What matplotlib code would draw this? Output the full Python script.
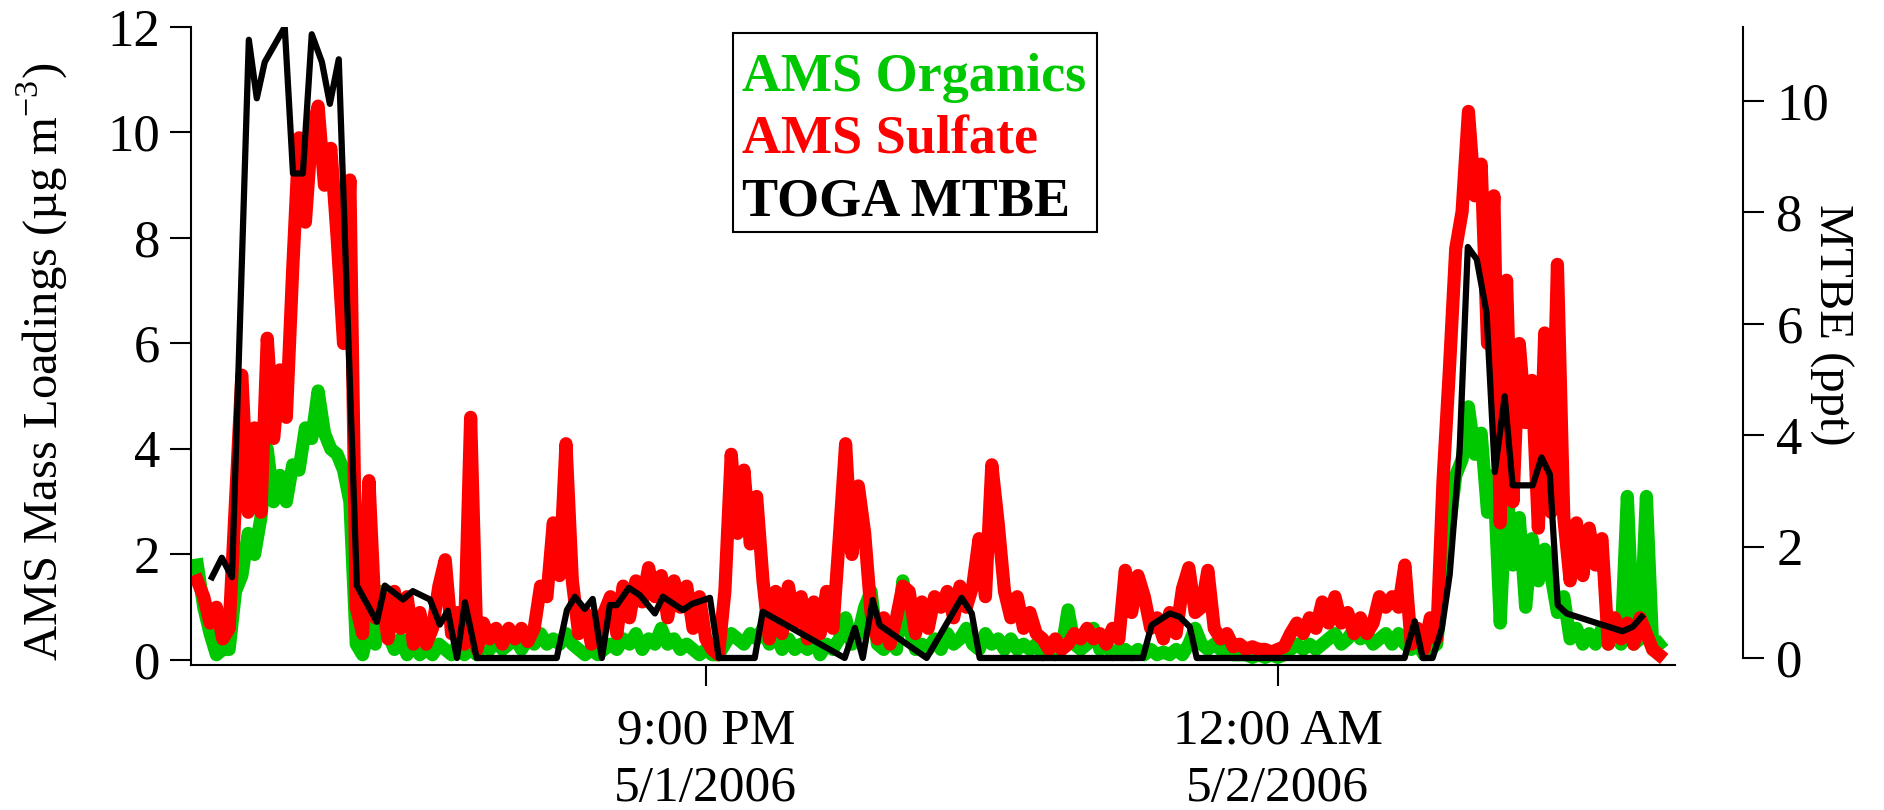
import matplotlib
matplotlib.use("Agg")
import matplotlib.pyplot as plt
from matplotlib.patches import Rectangle
import pandas as pd

plt.rcParams['font.family'] = ['Liberation Serif', 'DejaVu Serif']
plt.rcParams['mathtext.fontset'] = 'custom'
plt.rcParams['mathtext.rm'] = 'Liberation Serif'

# AMS data: one value every 2 minutes from 18:20 on 5/1/2006 (ug m-3)
ams_start = "2006-05-01 18:20"
ams_step = "2min"
organics = [
    1.8, 1.0, 0.5, 0.1, 0.2, 0.2, 1.3, 1.6, 2.4, 2.0,
    2.7, 4.0, 3.0, 3.5, 3.0, 3.7, 3.6, 4.4, 4.2, 5.1,
    4.3, 4.0, 3.9, 3.6, 3.0, 0.3, 0.1, 0.6, 0.3, 1.3,
    0.5, 0.2, 0.4, 0.1, 0.3, 0.1, 0.2, 0.1, 0.3, 0.2,
    0.1, 0.3, 0.1, 0.2, 0.1, 0.3, 0.2, 0.4, 0.2, 0.3,
    0.4, 0.2, 0.4, 0.3, 0.5, 0.3, 0.4, 0.3, 0.5, 0.3,
    0.2, 0.1, 0.2, 0.1, 0.2, 0.3, 0.2, 0.4, 0.3, 0.5,
    0.2, 0.4, 0.3, 0.6, 0.3, 0.4, 0.2, 0.3, 0.2, 0.1,
    0.2, 0.1, 0.1, 0.3, 0.5, 0.4, 0.3, 0.5, 0.4, 0.6,
    0.3, 0.5, 0.2, 0.4, 0.2, 0.3, 0.2, 0.4, 0.1, 0.3,
    0.2, 0.4, 0.8, 0.3, 0.5, 1.0, 1.3, 0.3, 0.2, 0.4,
    0.2, 1.5, 0.6, 0.2, 0.3, 0.2, 0.4, 0.2, 0.5, 0.3,
    0.4, 0.6, 0.3, 0.2, 0.5, 0.3, 0.4, 0.2, 0.4, 0.2,
    0.3, 0.2, 0.3, 0.1, 0.2, 0.1, 0.2, 0.95, 0.3, 0.2,
    0.3, 0.6, 0.2, 0.3, 0.1, 0.2, 0.2, 0.1, 0.2, 0.1,
    0.2, 0.1, 0.15, 0.1, 0.2, 0.1, 0.3, 0.6, 0.3, 0.2,
    0.3, 0.2, 0.2, 0.1, 0.1, 0.1, 0.05, 0.1, 0.05, 0.1,
    0.05, 0.1, 0.2, 0.3, 0.2, 0.3, 0.2, 0.3, 0.4, 0.5,
    0.3, 0.4, 0.6, 0.4, 0.5, 0.3, 0.4, 0.5, 0.3, 0.5,
    0.3, 0.2, 0.3, 0.1, 0.2, 0.3, 1.5, 2.5, 3.5, 3.8,
    4.8, 3.9, 4.3, 2.8, 3.5, 0.7, 3.3, 1.8, 2.7, 1.0,
    2.3, 1.5, 2.1, 1.6, 0.9, 1.2, 0.4, 0.6, 0.3, 0.5,
    0.3, 0.6, 0.3, 0.6, 0.3, 3.1, 0.3, 0.4, 3.1, 0.2, 0.3,
]
sulfate = [
    1.5, 1.2, 0.7, 1.0, 0.4, 0.6, 3.0, 5.4, 2.8, 4.4,
    2.8, 6.1, 4.2, 5.5, 4.6, 7.4, 9.9, 8.3, 10.0, 10.5,
    9.0, 9.7, 8.0, 6.0, 9.1, 1.0, 0.5, 3.4, 0.8, 1.2,
    0.4, 1.3, 0.6, 1.2, 0.3, 0.9, 0.3, 0.6, 1.4, 1.9,
    0.5, 0.9, 0.3, 4.6, 0.2, 0.7, 0.4, 0.6, 0.3, 0.6,
    0.4, 0.6, 0.35, 0.6, 1.4, 1.2, 2.6, 1.6, 4.1, 1.5,
    0.5, 0.9, 0.3, 0.6, 0.9, 1.2, 0.5, 1.4, 0.8, 1.5,
    1.1, 1.75, 1.2, 1.6, 0.8, 1.5, 1.0, 1.4, 0.6, 1.2,
    0.4, 0.2, 0.1, 1.3, 3.9, 2.4, 3.6, 2.2, 3.1, 1.5,
    0.4, 1.3, 0.5, 1.4, 0.7, 1.2, 0.4, 1.1, 0.5, 1.3,
    0.6, 2.3, 4.1, 2.0, 3.3, 2.4, 0.9, 0.4, 0.8, 0.3,
    0.8, 1.4, 1.3, 0.5, 1.1, 0.6, 1.2, 1.0, 1.3, 0.8,
    1.4, 1.0, 1.4, 2.3, 1.2, 3.7, 2.6, 1.3, 0.8, 1.2,
    0.6, 0.9, 0.5, 0.4, 0.2, 0.4, 0.2, 0.3, 0.5, 0.4,
    0.6, 0.4, 0.5, 0.3, 0.6, 0.4, 1.7, 0.9, 1.6, 1.2,
    0.6, 0.8, 0.4, 0.9, 0.5, 1.35, 1.75, 0.9, 1.0, 1.7,
    0.6, 0.4, 0.5, 0.25, 0.3, 0.2, 0.25, 0.2, 0.2, 0.15,
    0.2, 0.25, 0.5, 0.7, 0.5, 0.8, 0.6, 1.1, 0.7, 1.2,
    0.7, 0.9, 0.5, 0.8, 0.5, 0.7, 1.2, 1.0, 1.2, 1.0,
    1.8, 0.3, 0.6, 0.2, 0.8, 0.4, 3.4, 5.5, 7.8, 8.5,
    10.4, 8.8, 9.4, 6.0, 8.8, 2.6, 7.2, 3.0, 6.0, 4.5,
    5.3, 2.5, 6.2, 2.8, 7.5, 2.7, 1.5, 2.6, 1.6, 2.5,
    1.8, 2.3, 0.3, 0.8, 0.4, 0.7, 0.3, 0.8, 0.5, 0.2, 0.1,
]

# TOGA MTBE samples: minutes after 18:00 on 5/1/2006, and ppt
mtbe_base = "2006-05-01 18:00"
mtbe_minutes = [
    24.6, 27.7, 30.9, 36.2, 38.7, 41.2, 47.5, 50.1, 53.2, 56.0,
    59.2, 61.7, 64.5, 70.2, 76.5, 79.0, 84.7, 87.8, 93.2, 96.3,
    98.8, 101.7, 104.2, 107.9, 133.1, 136.3, 138.8, 141.9, 144.4, 147.3,
    149.8, 152.0, 155.8, 159.2, 164.0, 166.5, 172.8, 175.6, 181.3, 184.1,
    195.4, 197.9, 223.7, 226.9, 229.4, 232.5, 234.7, 249.5, 260.5, 263.7,
    266.2, 317.5, 320.3, 321.9, 326.0, 329.1, 332.3, 334.5, 399.9, 403.1,
    405.6, 408.7, 411.6, 414.1, 417.2, 419.8, 422.6, 425.7, 428.3, 431.4,
    433.9, 440.2, 443.0, 445.6, 448.1, 450.9, 468.5, 471.7, 474.5,
]
mtbe_ppt = [
    1.45, 1.8, 1.45, 11.1, 10.05, 10.7, 11.33, 8.7, 8.7, 11.2,
    10.7, 9.95, 10.75, 1.3, 0.65, 1.3, 1.05, 1.2, 1.05, 0.6,
    0.85, 0.0, 1.0, 0.0, 0.0, 0.86, 1.1, 0.88, 1.06, 0.0,
    0.95, 0.95, 1.26, 1.13, 0.8, 1.1, 0.86, 0.97, 1.08, 0.0,
    0.0, 0.83, 0.0, 0.54, 0.0, 1.04, 0.59, 0.0, 1.08, 0.8,
    0.0, 0.0, 0.59, 0.65, 0.8, 0.74, 0.56, 0.0, 0.0, 0.66,
    0.0, 0.0, 0.52, 1.5, 3.7, 7.38, 7.16, 6.2, 3.34, 4.7,
    3.1, 3.1, 3.6, 3.3, 0.95, 0.8, 0.48, 0.56, 0.74,
]

tick_times = ["2006-05-01 21:00", "2006-05-02 00:00"]
tick_labels = ["9:00 PM\n5/1/2006", "12:00 AM\n5/2/2006"]
legend_labels = ["AMS Organics", "AMS Sulfate", "TOGA MTBE"]
colors = ["#00c800", "#ff0000", "black"]

ams_time = pd.date_range(ams_start, periods=len(sulfate), freq=ams_step)
mtbe_time = pd.Timestamp(mtbe_base) + pd.to_timedelta(mtbe_minutes, unit="min")

W, H = 1884, 810
fig = plt.figure(figsize=(W / 100, H / 100), dpi=100)
ax = fig.add_axes([191 / W, 145 / H, 1484 / W, 638 / H])
ax2 = ax.twinx()

ax.plot(ams_time, organics, color=colors[0], lw=9.5, solid_joinstyle="round")
ax.plot(ams_time, sulfate, color=colors[1], lw=9.5, solid_joinstyle="round")
ax2.plot(mtbe_time, mtbe_ppt, color=colors[2], lw=4.5, solid_joinstyle="round")

ax.set_xlim(pd.Timestamp("2006-05-01 18:18"), pd.Timestamp("2006-05-02 02:05"))
ax.set_ylim(-0.095, 12)
ax2.set_ylim(-0.126, 11.33)

ax.set_yticks([0, 2, 4, 6, 8, 10, 12])
ax2.set_yticks([0, 2, 4, 6, 8, 10])
ax.set_xticks(pd.to_datetime(tick_times))
ax.set_xticklabels(tick_labels, linespacing=1.3)

for s in ["top", "right"]:
    ax.spines[s].set_visible(False)
for s in ["top", "left", "bottom"]:
    ax2.spines[s].set_visible(False)
ax2.spines["right"].set_position(("outward", 49))
ax2.spines["right"].set_bounds(0, 11.33)
for sp in [ax.spines["left"], ax.spines["bottom"], ax2.spines["right"]]:
    sp.set_linewidth(1.5)

ax.tick_params(axis="y", direction="out", length=15, width=1.5, pad=7, labelsize=38)
ax.tick_params(axis="x", direction="out", length=15, width=1.5, pad=16, labelsize=37)
ax2.tick_params(axis="y", direction="out", length=15, width=1.5, pad=9, labelsize=38)

ax.set_ylabel("AMS Mass Loadings (µg m$^{-3}$)", fontsize=35, va="center")
ax.yaxis.set_label_coords(-0.1, 0.475)
ax2.set_ylabel("MTBE (ppt)", fontsize=35, rotation=270, va="center", ha="center")
ax2.yaxis.set_label_coords(1.105, 0.533)

# legend box drawn as coloured text in a frame
fig.patches.append(Rectangle((733 / W, 1 - 232 / H), 364 / W, 199 / H,
                             transform=fig.transFigure, facecolor="white",
                             edgecolor="black", lw=1.5, zorder=5))
for label, c, base in zip(legend_labels, colors, [91, 154, 216]):
    fig.text(742 / W, 1 - base / H, label, color=c, fontsize=39,
             fontweight="bold", va="baseline", ha="left", zorder=6)

fig.savefig("out.png", dpi=100)
